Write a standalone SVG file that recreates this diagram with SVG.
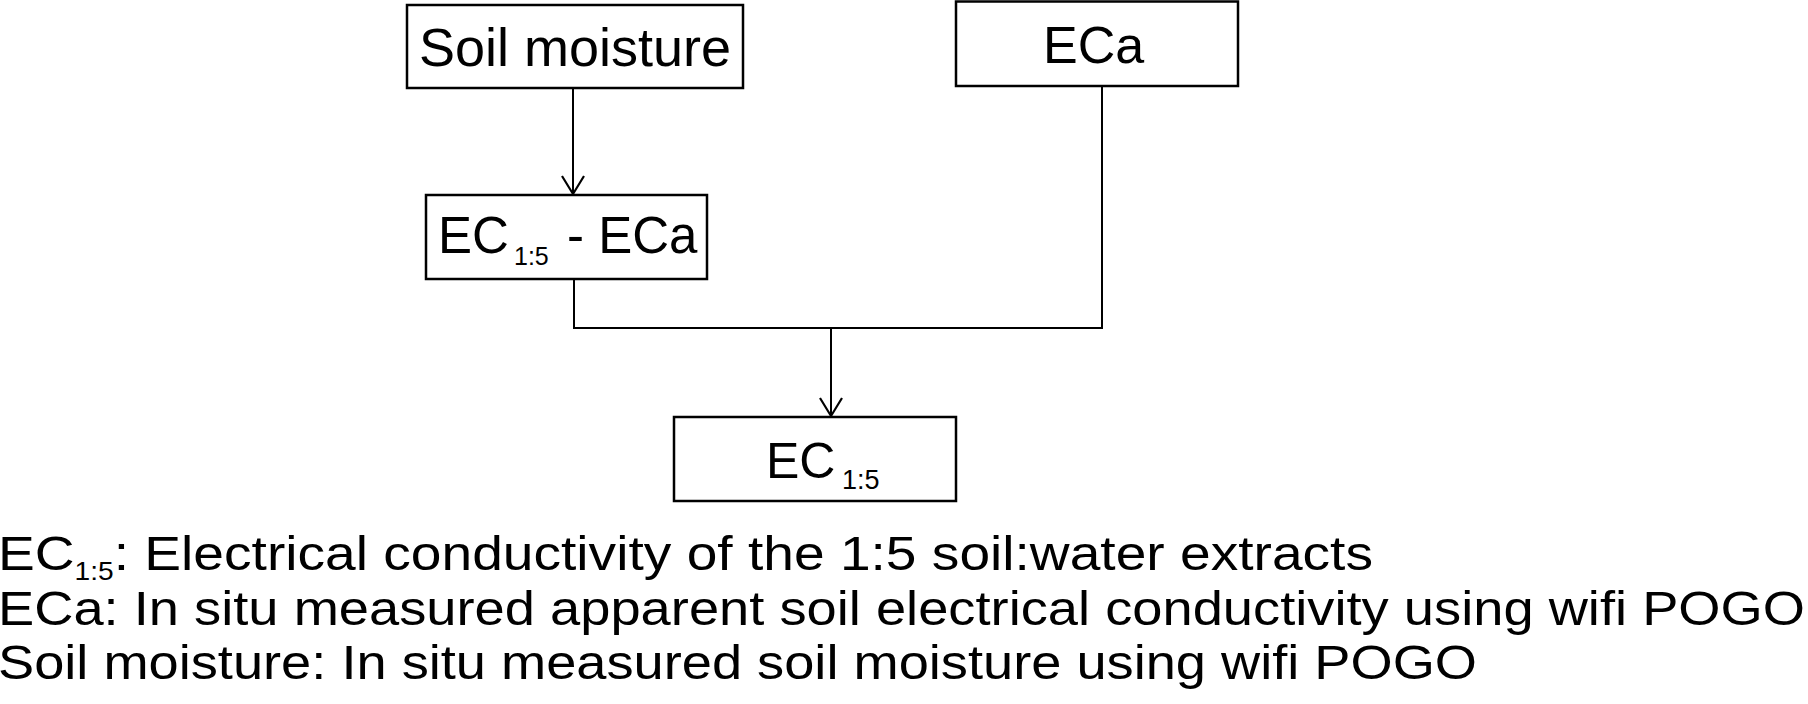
<svg xmlns="http://www.w3.org/2000/svg" width="1808" height="704" viewBox="0 0 1808 704">
<style>
.box{fill:#fff;stroke:#000;stroke-width:2.5}
.t{font-family:"Liberation Sans",Arial,sans-serif;fill:#000}
.ln{fill:none;stroke:#000;stroke-width:2}
</style>
<defs>
<marker id="arr" markerUnits="userSpaceOnUse" orient="auto" markerWidth="30" markerHeight="30" refX="0" refY="0" overflow="visible">
<path d="M-18,-11 L0,0 L-18,11" fill="none" stroke="#000" stroke-width="2.2"/>
</marker>
</defs>
<rect width="1808" height="704" fill="#fff"/>
<g id="connectors">
<path class="ln" d="M573,88 V194" marker-end="url(#arr)"/>
<path class="ln" d="M574,279 V328 H1102 V86"/>
<path class="ln" d="M831,328 V416" marker-end="url(#arr)"/>
</g>
<g id="soil-moisture">
<rect class="box" x="407" y="5" width="336" height="83"/>
<text class="t" x="419" y="66" font-size="54">Soil moisture</text>
</g>
<g id="eca">
<rect class="box" x="956" y="1.5" width="282" height="84.5"/>
<text class="t" x="1043" y="63" font-size="52">ECa</text>
</g>
<g id="ec15-minus-eca">
<rect class="box" x="426" y="195" width="281" height="84"/>
<text class="t" x="438" y="253" font-size="51">EC</text>
<text class="t" x="514" y="265" font-size="25">1:5</text>
<text class="t" x="567" y="253" font-size="51">- ECa</text>
</g>
<g id="ec15">
<rect class="box" x="674" y="417" width="282" height="84"/>
<text class="t" x="766" y="478" font-size="50">EC</text>
<text class="t" x="842" y="489" font-size="27">1:5</text>
</g>
<g id="legend">
<text class="t" x="-2" y="570" font-size="49" textLength="1375" lengthAdjust="spacingAndGlyphs">EC<tspan font-size="25" dy="10">1:5</tspan><tspan dy="-10">: Electrical conductivity of the 1:5 soil:water extracts</tspan></text>
<text class="t" x="-2" y="625" font-size="49" textLength="1807" lengthAdjust="spacingAndGlyphs">ECa: In situ measured apparent soil electrical conductivity using wifi POGO</text>
<text class="t" x="-2" y="679" font-size="49" textLength="1479" lengthAdjust="spacingAndGlyphs">Soil moisture: In situ measured soil moisture using wifi POGO</text>
</g>
</svg>
